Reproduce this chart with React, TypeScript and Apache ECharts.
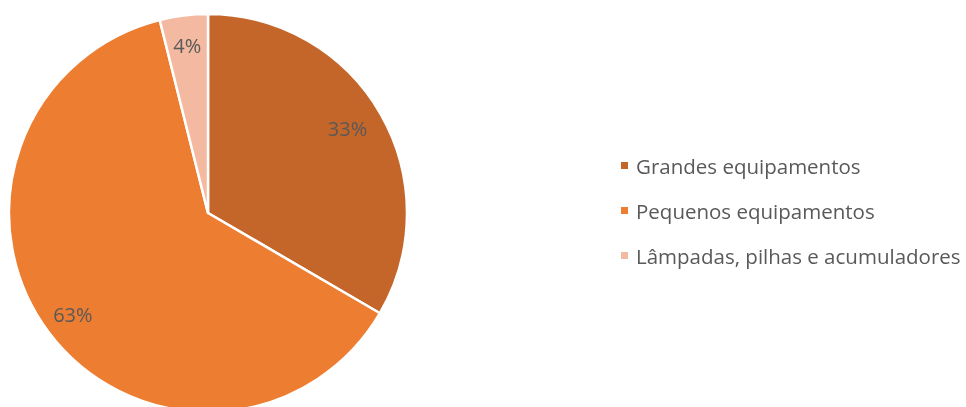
import React, { useEffect, useRef } from "react";
import * as echarts from "echarts";

const categories = ["Grandes equipamentos", "Pequenos equipamentos", "Lâmpadas, pilhas e acumuladores"];
const values = [33.4, 62.7, 3.9];
const colors = ["#C4662A", "#ED7D31", "#F4B9A1"];

export default function App() {
  const ref = useRef<HTMLDivElement>(null);
  useEffect(() => {
    if (!ref.current) return;
    const chart = echarts.init(ref.current, null, { renderer: "svg" });
    const data = categories.map((name, i) => ({ name, value: values[i], itemStyle: { color: colors[i] } }));
    chart.setOption({
      animation: false,
      legend: {
        orient: "vertical",
        left: 614,
        top: 150,
        itemWidth: 9,
        itemHeight: 9,
        itemGap: 24,
        icon: "rect",
        textStyle: { fontFamily: "Open Sans", fontSize: 20.5, color: "#595959", padding: [0, 0, 0, 2] },
        data: categories,
      },
      series: [
        {
          type: "pie",
          center: [208, 213],
          radius: [0, 199],
          startAngle: 90,
          clockwise: true,
          silent: true,
          itemStyle: { borderColor: "#ffffff", borderWidth: 2.5 },
          label: { show: false },
          labelLine: { show: false },
          data,
        },
        {
          type: "pie",
          center: [208, 213],
          radius: [0, 332],
          startAngle: 90,
          clockwise: true,
          silent: true,
          legendHoverLink: false,
          itemStyle: { color: "transparent", borderWidth: 0 },
          label: {
            show: true,
            position: "inside",
            formatter: (p: any) => Math.round(p.percent) + "%",
            fontFamily: "Open Sans",
            fontSize: 20,
            color: "#595959",
          },
          labelLayout: (p: any) => (p.dataIndex === 0 ? { dx: -7 } : {}),
          labelLine: { show: false },
          data: categories.map((name, i) => ({ name, value: values[i], itemStyle: { color: "transparent" } })),
        },
      ],
    });
    return () => chart.dispose();
  }, []);
  return <div ref={ref} style={{ position: "fixed", left: 0, top: 0, width: 966, height: 407 }} />;
}
